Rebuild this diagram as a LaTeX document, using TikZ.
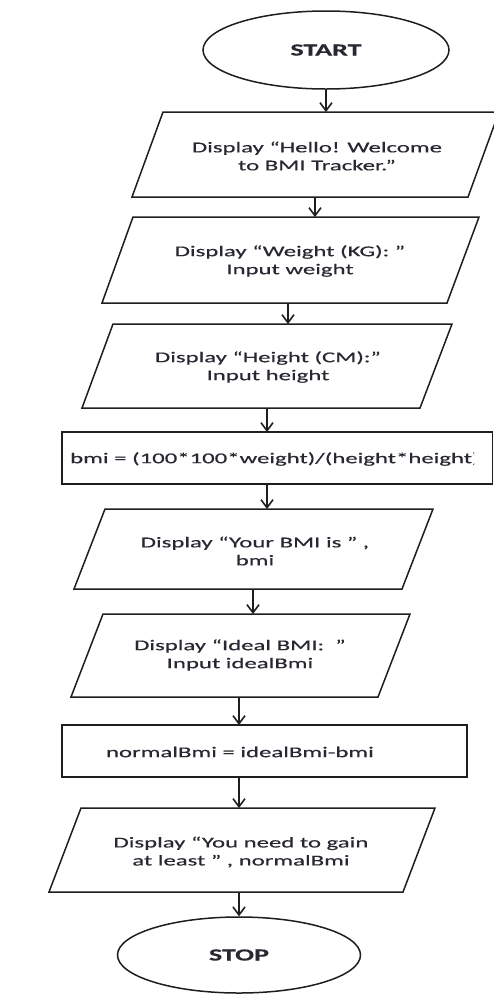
\documentclass[tikz,border=0pt]{standalone}
\usepackage{fontspec}
\setmainfont{Carlito}[FakeStretch=1.65,FakeBold=0.4]
\usetikzlibrary{arrows.meta,shapes.geometric}
\definecolor{ink}{RGB}{30,30,30}
\definecolor{txt}{RGB}{40,40,50}
\begin{document}
\begin{tikzpicture}[x=1pt,y=-1pt,
  outline/.style={draw=ink,line width=1.5pt,fill=white,line join=miter},
  flow/.style={draw=ink,line width=1.6pt,-{Straight Barb[length=8pt,width=12pt,line width=1.6pt]}},
  body/.style={text=txt,font=\fontsize{15}{18}\selectfont,align=center,inner sep=0pt},
  term/.style={ellipse,outline,text=txt,font=\fontsize{17}{20}\selectfont\bfseries,inner sep=0pt}]
\useasboundingbox (0,0) rectangle (494,994);

% terminals
\node[term,minimum width=246pt,minimum height=78pt] (start) at (326,50) {START};
\node[term,minimum width=243pt,minimum height=76pt] (stop) at (239,955) {STOP};

% input / output parallelograms
\draw[outline] (163,112) -- (499,112) -- (468,197) -- (132,197) -- cycle;
\node[body] (t1) at (317,156) {Display “Hello! Welcome\\to BMI Tracker.”};

\draw[outline] (133,217) -- (479,217) -- (447,303) -- (102,303) -- cycle;
\node[body] (t2) at (290,261) {Display “Weight (KG): ”\\Input weight};

\draw[outline] (113,324) -- (452,324) -- (420,408) -- (82,408) -- cycle;
\node[body] (t3) at (268,367) {Display “Height (CM):”\\Input height};

% process: bmi (the long formula runs into the right margin of the box)
\draw[outline] (62,432) rectangle (492.5,484);
\begin{scope}
  \clip (62,432) rectangle (474,484);
  \node[body,anchor=west] (t4) at (70,459) {bmi = (100*100*weight)/(height*height)};
\end{scope}

\draw[outline] (105,509) -- (433,509) -- (402,589) -- (74,589) -- cycle;
\node[body] (t5) at (255,551) {Display “Your BMI is ” ,\\bmi};

\draw[outline] (103,614) -- (410,614) -- (378,697) -- (71,697) -- cycle;
\node[body] (t6) at (240,655) {Display “Ideal BMI:~ ”\\Input idealBmi};

% process: difference
\draw[outline] (62,725) rectangle (467,777);
\node[body] (t7) at (240,752) {normalBmi = idealBmi-bmi};

\draw[outline] (81,808) -- (435,808) -- (403,892) -- (49,892) -- cycle;
\node[body] (t8) at (241,852) {Display “You need to gain\\at least ” , normalBmi};

% connector end points on the shape edges
\coordinate (p1n) at (326,112);
\coordinate (p1s) at (315,197);  \coordinate (p2n) at (315,217);
\coordinate (p2s) at (288,303);  \coordinate (p3n) at (288,324);
\coordinate (p3s) at (267,408);  \coordinate (r1n) at (267,432);
\coordinate (r1s) at (267,484);  \coordinate (p5n) at (267,509);
\coordinate (p5s) at (253,589);  \coordinate (p6n) at (253,614);
\coordinate (p6s) at (239,697);  \coordinate (r2n) at (239,725);
\coordinate (r2s) at (239,777);  \coordinate (p8n) at (239,808);
\coordinate (p8s) at (239,892);

\draw[flow] (start.south) -- (p1n);
\draw[flow] (p1s) -- (p2n);
\draw[flow] (p2s) -- (p3n);
\draw[flow] (p3s) -- (r1n);
\draw[flow] (r1s) -- (p5n);
\draw[flow] (p5s) -- (p6n);
\draw[flow] (p6s) -- (r2n);
\draw[flow] (r2s) -- (p8n);
\draw[flow] (p8s) -- (stop.north);
\end{tikzpicture}
\end{document}
